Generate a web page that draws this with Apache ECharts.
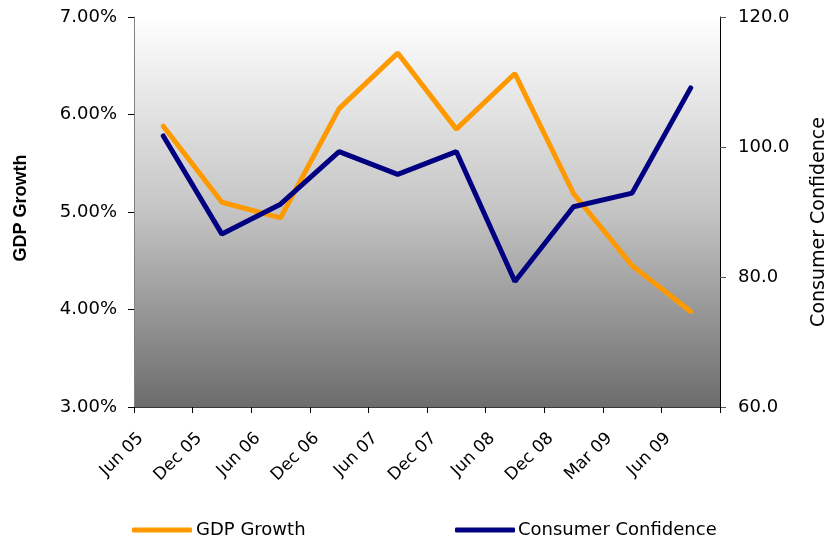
<!DOCTYPE html>
<html>
<head>
<meta charset="utf-8">
<script src="https://cdn.jsdelivr.net/npm/echarts@6/dist/echarts.min.js"></script>
<style>
  html, body { margin: 0; padding: 0; background: #fff; }
  #chart { width: 829px; height: 538px; }
</style>
</head>
<body>
<div id="chart"></div>
<script>
// periods on the category axis
const periods = ['Jun 05', 'Dec 05', 'Jun 06', 'Dec 06', 'Jun 07', 'Dec 07', 'Jun 08', 'Dec 08', 'Mar 09', 'Jun 09'];
// GDP growth, in percent
const gdpGrowth = [5.88, 5.10, 4.94, 6.06, 6.63, 5.85, 6.42, 5.19, 4.45, 3.98];
// consumer confidence index
const consumerConfidence = [101.7, 86.6, 91.2, 99.3, 95.8, 99.3, 79.3, 90.8, 92.9, 109.1];

const FONT = 'DejaVu Sans';

const chart = echarts.init(document.getElementById('chart'));

const option = {
    animation: false,
    textStyle: { fontFamily: FONT, color: '#000' },
    grid: {
        left: 134, right: 109, top: 17, bottom: 131,
        outerBoundsMode: 'none',
        containLabel: false,
        show: true,
        borderWidth: 0,
        backgroundColor: {
            type: 'linear', x: 0, y: 0, x2: 0, y2: 1,
            colorStops: [
                { offset: 0, color: '#ffffff' },
                { offset: 0.5, color: '#c4c4c4' },
                { offset: 1, color: '#6c6c6c' }
            ]
        }
    },
    legend: [
        {
            data: ['GDP Growth'],
            left: 127, top: 516,
            icon: 'roundRect', itemWidth: 60, itemHeight: 5, itemGap: 4,
            textStyle: { fontFamily: FONT, fontSize: 18, color: '#000', padding: [0, 0, 0, -1] }
        },
        {
            data: ['Consumer Confidence'],
            left: 450, top: 516,
            icon: 'roundRect', itemWidth: 60, itemHeight: 5, itemGap: 4,
            textStyle: { fontFamily: FONT, fontSize: 18, color: '#000', padding: [0, 0, 0, -2] }
        }
    ],
    xAxis: {
        type: 'category',
        data: periods,
        boundaryGap: true,
        axisLine: { lineStyle: { color: '#3a3a3a', width: 1 } },
        axisTick: { show: true, length: 6, alignWithLabel: false, lineStyle: { color: '#000' } },
        axisLabel: {
            interval: 0,
            rotate: 45,
            margin: 6,
            padding: [0, 32, 0, 0],
            fontFamily: FONT,
            fontSize: 17,
            color: '#000'
        },
        splitLine: { show: false }
    },
    yAxis: [
        {
            type: 'value',
            min: 3, max: 7, interval: 1,
            position: 'left',
            name: 'GDP Growth',
            nameLocation: 'middle',
            nameRotate: 90,
            nameGap: 104,
            nameTextStyle: { fontFamily: 'Liberation Sans', fontWeight: 'bold', fontSize: 18, color: '#000', padding: [0, 0, 0, 8] },
            axisLine: { show: true, lineStyle: { color: '#808080', width: 1 } },
            axisTick: { show: true, length: 6, lineStyle: { color: '#000' } },
            axisLabel: {
                margin: 17,
                fontFamily: FONT, fontSize: 18, color: '#000',
                formatter: v => v.toFixed(2) + '%'
            },
            splitLine: { show: false }
        },
        {
            type: 'value',
            min: 60, max: 120, interval: 20,
            position: 'right',
            name: 'Consumer Confidence',
            nameLocation: 'middle',
            nameRotate: 90,
            nameGap: 90,
            nameTextStyle: { fontFamily: FONT, fontSize: 19, color: '#000', padding: [0, 20, 0, 0] },
            axisLine: { show: true, lineStyle: { color: '#000', width: 1 } },
            axisTick: { show: true, length: 6, lineStyle: { color: '#555' } },
            axisLabel: {
                margin: 18,
                fontFamily: FONT, fontSize: 18, color: '#000',
                formatter: v => v.toFixed(1)
            },
            splitLine: { show: false }
        }
    ],
    series: [
        {
            name: 'GDP Growth',
            type: 'line',
            yAxisIndex: 0,
            data: gdpGrowth,
            symbol: 'none',
            color: '#ff9900',
            lineStyle: { width: 5, color: '#ff9900', cap: 'round' }
        },
        {
            name: 'Consumer Confidence',
            type: 'line',
            yAxisIndex: 1,
            data: consumerConfidence,
            symbol: 'none',
            color: '#000080',
            lineStyle: { width: 5, color: '#000080', cap: 'round' }
        }
    ]
};

chart.setOption(option);
</script>
</body>
</html>
